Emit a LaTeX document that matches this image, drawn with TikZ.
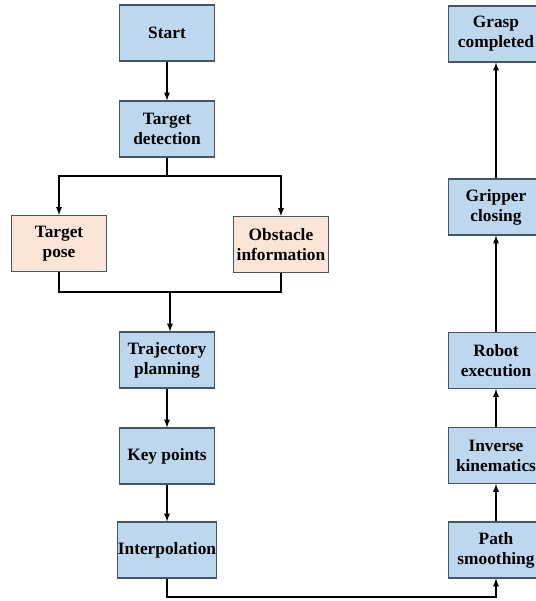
\documentclass[tikz,border=0pt]{standalone}
\usepackage{fontspec}
\setmainfont{Liberation Serif}
\usetikzlibrary{arrows,arrows.meta,calc,positioning}
\definecolor{boxblue}{HTML}{BDD7EE}
\definecolor{boxpeach}{HTML}{FBE5D6}
\definecolor{boxline}{HTML}{44546A}
\begin{document}
\begin{tikzpicture}[x=0.75pt,y=-0.75pt,align=center,line width=1pt,
	font=\fontsize{13}{15}\selectfont\bfseries,
	blk/.style={draw=boxline,line width=0.8pt,fill=boxblue,minimum width=71pt,minimum height=42pt,inner sep=0pt},
	pch/.style={blk,fill=boxpeach}]
	\useasboundingbox (0,0) rectangle (536,601);
	% left column
	\node[blk](start) at (167,33){Start};
	\node[blk](det) at (167,129){Target\\detection};
	\node[pch](pose) at (59,243.5){Target\\pose};
	\node[pch](obst) at (281,244.5){Obstacle\\information};
	\node[blk](traj) at (167,360){Trajectory\\planning};
	\node[blk](key) at (167,456){Key points};
	\node[blk](interp) at (167,550){Interpolation};
	% right column
	\node[blk](smooth) at (496,550){Path\\smoothing};
	\node[blk](inv) at (496,455.5){Inverse\\kinematics};
	\node[blk](robot) at (496,360.5){Robot\\execution};
	\node[blk](grip) at (496,207){Gripper\\closing};
	\node[blk](grasp) at (496,34){Grasp\\completed};
	\coordinate (split) at (167,176);
	\coordinate (join) at (170,292);
	\coordinate (low) at (0,597);
	\draw[-latex](start) -- (det);
	\draw (det.south) -- (split);
	\draw[-latex](split) -| (pose.north);
	\draw[-latex](split) -| (obst.north);
	\draw (pose.south) |- (join) -| (obst.south);
	\draw[-latex](join) -- (join |- traj.north);
	\draw[-latex](traj) -- (key);
	\draw[-latex](key) -- (interp);
	\draw[-latex](interp.south) |- (low -| smooth.south) -- (smooth.south);
	\draw[-latex](smooth) -- (inv);
	\draw[-latex](inv) -- (robot);
	\draw[-latex](robot) -- (grip);
	\draw[-latex](grip) -- (grasp);
\end{tikzpicture}
\end{document}
